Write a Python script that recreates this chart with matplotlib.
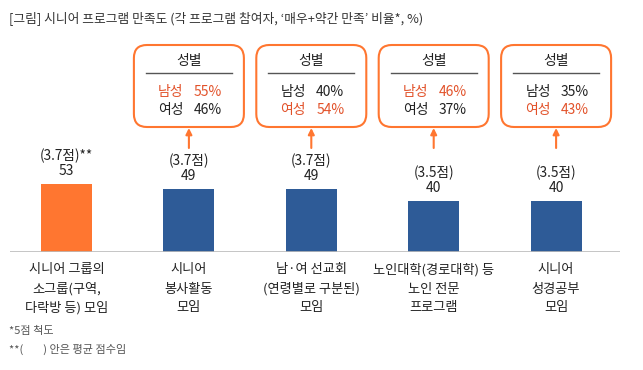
import matplotlib
matplotlib.use("Agg")
import matplotlib.pyplot as plt
from matplotlib import transforms
from matplotlib.patches import FancyBboxPatch, FancyArrowPatch

plt.rcParams['font.family'] = ['Noto Sans CJK KR', 'DejaVu Sans']

title = "[그림] 시니어 프로그램 만족도 (각 프로그램 참여자, ‘매우+약간 만족’ 비율*, %)"
categories = ["시니어 그룹의\n소그룹(구역,\n다락방 등) 모임",
              "시니어\n봉사활동\n모임",
              "남·여 선교회\n(연령별로 구분된)\n모임",
              "노인대학(경로대학) 등\n노인 전문\n프로그램",
              "시니어\n성경공부\n모임"]
values = [53, 49, 49, 40, 40]
scores = ["3.7", "3.7", "3.7", "3.5", "3.5"]
male = [None, 55, 40, 46, 35]
female = [None, 46, 54, 37, 43]
footnotes = ["*5점 척도", "**(        ) 안은 평균 점수임"]

ORANGE = "#FF7630"
BLUE = "#2E5B97"
RED = "#E2522A"
TXT = "#222222"

W, H = 643, 370
fig = plt.figure(figsize=(W / 100, H / 100), dpi=100)
# pixel transform (origin top-left)
T = transforms.Affine2D().scale(1 / W, -1 / H).translate(0, 1) + fig.transFigure

base_y = 252
px_per_unit = 1.28
left_px, right_px = 10, 620
c0, step = 66.5, 122.4
ax = fig.add_axes([left_px / W, (H - base_y) / H, (right_px - left_px) / W, base_y / H])
ax.set_xlim((left_px - c0) / step, (right_px - c0) / step)
ax.set_ylim(0, base_y / px_per_unit)
ax.axis('off')

xs = list(range(len(values)))
colors = [ORANGE] + [BLUE] * (len(values) - 1)
ax.bar(xs, values, width=51 / step, color=colors, zorder=2)
ax.axhline(0, color="#BBBBBB", lw=1.2, zorder=3)

def cx(i):
    return c0 + step * i

for i, v in enumerate(values):
    top = base_y - v * px_per_unit
    star = "**" if i == 0 else ""
    fig.text(cx(i), top - 28, f"({scores[i]}점){star}", transform=T, ha='center', va='center',
             fontsize=9.8, color=TXT)
    fig.text(cx(i), top - 13, f"{v}", transform=T, ha='center', va='center',
             fontsize=10, color=TXT)
    for k, line in enumerate(categories[i].split("\n")):
        fig.text(cx(i), 270 + 19 * k, line, transform=T, ha='center', va='center',
                 fontsize=9.5, color=TXT)

# gender boxes
for i in range(len(values)):
    if male[i] is None:
        continue
    x = cx(i)
    bw, btop, bbot = 110, 45, 127
    box = FancyBboxPatch((x - bw / 2, btop), bw, bbot - btop,
                         boxstyle="round,pad=0,rounding_size=13",
                         transform=T, fc="white", ec=ORANGE, lw=1.5)
    fig.add_artist(box)
    fig.text(x, 61, "성별", transform=T, ha='center', va='center', fontsize=10, color=TXT)
    fig.add_artist(plt.Line2D([x - 43, x + 43], [73, 73], transform=T, color="#555555", lw=1))
    mc = RED if male[i] > female[i] else TXT
    fc_ = RED if female[i] > male[i] else TXT
    fig.text(x - 18, 92, "남성", transform=T, ha='center', va='center', fontsize=10, color=mc)
    fig.text(x + 19, 92, f"{male[i]}%", transform=T, ha='center', va='center', fontsize=10, color=mc)
    fig.text(x - 18, 110, "여성", transform=T, ha='center', va='center', fontsize=10, color=fc_)
    fig.text(x + 19, 110, f"{female[i]}%", transform=T, ha='center', va='center', fontsize=10, color=fc_)
    arr = FancyArrowPatch((x, 148), (x, 128), transform=T, arrowstyle='-|>',
                          mutation_scale=9, color=ORANGE, lw=1.5, shrinkA=0, shrinkB=0)
    fig.add_artist(arr)

fig.text(9, 18, title, transform=T, ha='left', va='center', fontsize=9.2, color="#333333")
fig.text(9, 331, footnotes[0], transform=T, ha='left', va='center', fontsize=8, color="#555555")
fig.text(9, 349, footnotes[1], transform=T, ha='left', va='center', fontsize=8, color="#555555")

fig.savefig("out.png", dpi=100)
